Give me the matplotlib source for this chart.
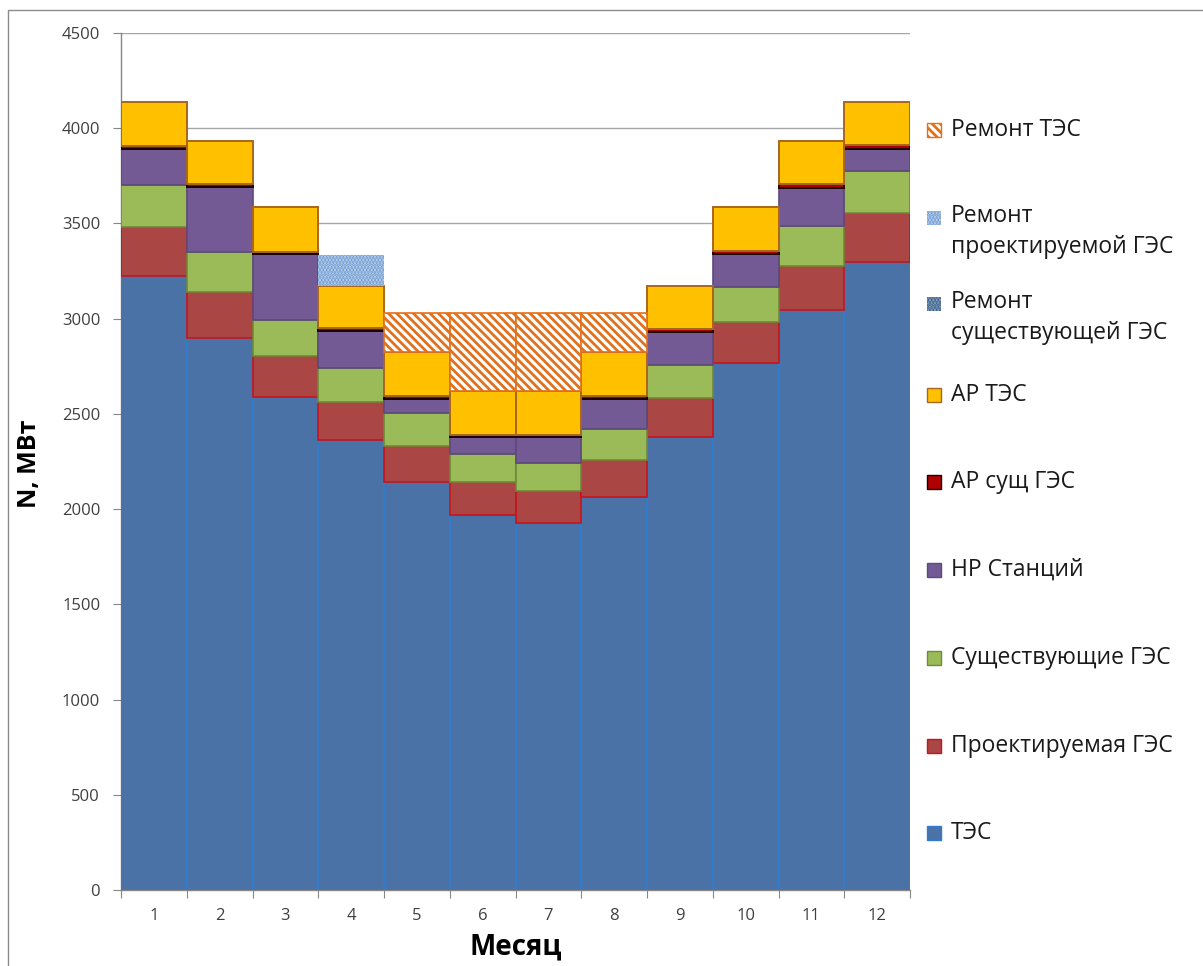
import numpy as np
import matplotlib
matplotlib.use('Agg')
import matplotlib.pyplot as plt
from matplotlib.patches import Rectangle
from matplotlib.lines import Line2D

plt.rcParams['font.family'] = ['Open Sans', 'DejaVu Sans']
plt.rcParams['hatch.linewidth'] = 2.0

# --- monthly power balance, MW ---
months = np.arange(1, 13)
month_labels = [str(m) for m in months]

tes = [3225, 2899, 2589, 2363, 2143, 1970, 1928, 2064, 2379, 2768, 3046, 3298]
proj_ges = [257, 242, 215, 200, 189, 173, 168, 194, 205, 215, 231, 257]
exist_ges = [221, 210, 189, 179, 173, 147, 147, 163, 173, 184, 210, 221]
nr_stations = [189, 341, 347, 194, 74, 89, 137, 158, 173, 173, 200, 116]
ar_exist_ges = [16, 16, 12, 16, 16, 10, 10, 16, 16, 16, 20, 20]
ar_tes = [230, 227, 236, 220, 231, 231, 231, 231, 226, 231, 226, 225]
repair_tes = [0, 0, 0, 0, 205, 410, 410, 205, 0, 0, 0, 0]
repair_proj_ges = [0, 0, 0, 163, 0, 0, 0, 0, 0, 0, 0, 0]
repair_exist_ges = [0, 0, 0, 0, 0, 0, 0, 0, 0, 0, 0, 0]

# stacking order, bottom to top
series = [
    ('ТЭС', tes,
     dict(facecolor='#4A72A6', edgecolor='#2F7DD1', linewidth=1.2)),
    ('Проектируемая ГЭС', proj_ges,
     dict(facecolor='#AA4643', edgecolor='#C8141C', linewidth=1.2)),
    ('Существующие ГЭС', exist_ges,
     dict(facecolor='#9BBB59', edgecolor='#6E8A3A', linewidth=1.2)),
    ('НР Станций', nr_stations,
     dict(facecolor='#735A94', edgecolor='#5E4A7C', linewidth=1.2)),
    ('АР сущ ГЭС', ar_exist_ges,
     dict(facecolor='#B00000', edgecolor='#1A0000', linewidth=1.4)),
    ('АР ТЭС', ar_tes,
     dict(facecolor='#FFC000', edgecolor='#A8661E', linewidth=1.4)),
    ('Ремонт ТЭС', repair_tes,
     dict(facecolor='white', edgecolor='#E2711D', hatch='\\\\\\\\', linewidth=1.2)),
    ('Ремонт\nпроектируемой ГЭС', repair_proj_ges,
     dict(facecolor='#C6D9F0', edgecolor='#6F9BD2', hatch='.....', linewidth=0)),
    ('Ремонт\nсуществующей ГЭС', repair_exist_ges,
     dict(facecolor='#8FA9C8', edgecolor='#3E5F86', hatch='.....', linewidth=0)),
]

# legend reads top to bottom in this order
legend_order = [6, 7, 8, 5, 4, 3, 2, 1, 0]
legend_rows = [130, 218, 304, 395, 482, 570, 658, 746, 833]

W, H = 1203, 966
fig = plt.figure(figsize=(W / 100, H / 100), dpi=100)
ax = fig.add_axes([121 / W, 1 - 890 / H, 789 / W, 857 / H])

bottom = np.zeros(len(months))
for label, values, style in series:
    values = np.asarray(values, dtype=float)
    mask = values > 0
    if mask.any():
        ax.bar(months[mask], values[mask], width=1.0, bottom=bottom[mask],
               zorder=3, **style)
    bottom += values

# axes styling
ax.set_xlim(0.5, 12.5)
ax.set_ylim(0, 4500)
ax.set_yticks(np.arange(0, 4501, 500))
ax.grid(axis='y', color='#A6A6A6', linewidth=1.0, zorder=0)
ax.set_axisbelow(True)

ax.set_xticks(np.arange(0.5, 12.6, 1.0))
ax.set_xticklabels([])
ax.set_xticks(months, minor=True)
ax.set_xticklabels(month_labels, minor=True)
ax.tick_params(axis='x', which='major', length=6, color='#868686', direction='out')
ax.tick_params(axis='x', which='minor', length=0, pad=13, labelsize=12, labelcolor='#404040')
ax.tick_params(axis='y', length=6, color='#868686', direction='out', pad=9,
               labelsize=12, labelcolor='#404040')

for side in ('top', 'right'):
    ax.spines[side].set_visible(False)
for side in ('left', 'bottom'):
    ax.spines[side].set_color('#868686')
    ax.spines[side].set_linewidth(1.0)

ax.set_xlabel('Месяц', fontsize=20, fontweight='bold')
ax.set_ylabel('N, МВт', fontsize=18, fontweight='bold')
ax.xaxis.set_label_coords(0.5, -0.049)
ax.yaxis.set_label_coords(-0.100, 0.497)

# legend on the right
box = 14
for idx, y in zip(legend_order, legend_rows):
    label, values, style = series[idx]
    st = dict(style)
    st['linewidth'] = 0 if style.get('linewidth', 1) == 0 else 1.0
    fig.patches.append(Rectangle((927 / W, 1 - (y + box / 2) / H), box / W, box / H,
                                 transform=fig.transFigure, **st))
    if '\n' in label:
        fig.text(951 / W, 1 - (y - 14) / H, label, fontsize=16.5, va='top',
                 linespacing=1.4, color='#1A1A1A')
    else:
        fig.text(951 / W, 1 - y / H, label, fontsize=16.5, va='center', color='#1A1A1A')

# thin frame along the top and left of the chart area
fig.lines.append(Line2D([8 / W, 8 / W, 1.0], [0.0, 1 - 10 / H, 1 - 10 / H],
                        transform=fig.transFigure, color='#8C8C8C', linewidth=1.0))

fig.savefig('out.png', dpi=100)
